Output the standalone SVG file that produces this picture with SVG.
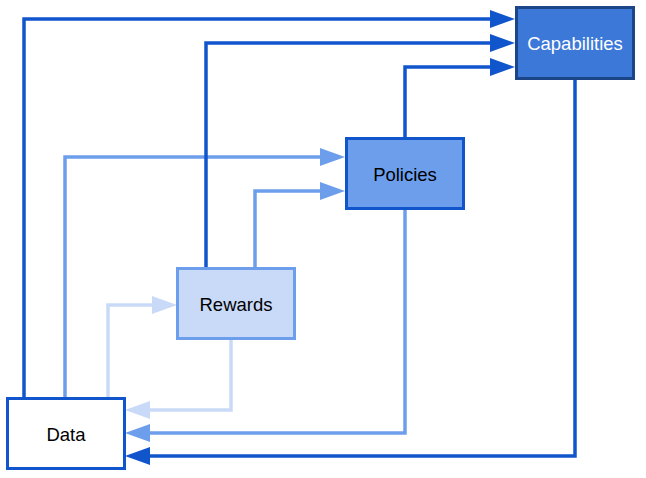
<svg xmlns="http://www.w3.org/2000/svg" width="646" height="478" viewBox="0 0 646 478">
<style>
.n text{font-family:"Liberation Sans",Arial,sans-serif;font-size:18.5px;text-anchor:middle;dominant-baseline:central}
.c path{fill:none;stroke-width:3.5;stroke-linejoin:miter}
.dk{stroke:#1155CC}
.md{stroke:#6D9EEB}
.lt{stroke:#C9DAF8}
</style>
<defs>
<marker id="ad" markerUnits="userSpaceOnUse" markerWidth="26" markerHeight="20" refX="12" refY="9" orient="auto"><path d="M0,0 L25,9 L0,18 z" fill="#1155CC"/></marker>
<marker id="am" markerUnits="userSpaceOnUse" markerWidth="26" markerHeight="20" refX="12" refY="9" orient="auto"><path d="M0,0 L25,9 L0,18 z" fill="#6D9EEB"/></marker>
<marker id="al" markerUnits="userSpaceOnUse" markerWidth="26" markerHeight="20" refX="12" refY="9" orient="auto"><path d="M0,0 L25,9 L0,18 z" fill="#C9DAF8"/></marker>
</defs>
<g id="connectors" class="c">
<path class="lt" d="M108,398 V305 H164" marker-end="url(#al)"/>
<path class="lt" d="M231,339 V410 H138" marker-end="url(#al)"/>
<path class="md" d="M65,398 V157 H332" marker-end="url(#am)"/>
<path class="md" d="M255,268 V191 H332" marker-end="url(#am)"/>
<path class="md" d="M405,209 V433 H138" marker-end="url(#am)"/>
<path class="dk" d="M24,398 V19 H502" marker-end="url(#ad)"/>
<path class="dk" d="M206,268 V43 H502" marker-end="url(#ad)"/>
<path class="dk" d="M405,138 V67 H502" marker-end="url(#ad)"/>
<path class="dk" d="M575,79 V456 H138" marker-end="url(#ad)"/>
</g>
<g id="capabilities" class="n">
<rect x="516.5" y="7.5" width="117" height="71" fill="#3C78D8" stroke="#1C4587" stroke-width="3"/>
<text x="575" y="43" fill="#FFFFFF">Capabilities</text>
</g>
<g id="policies" class="n">
<rect x="346.5" y="138.5" width="117" height="70" fill="#6D9EEB" stroke="#1155CC" stroke-width="3"/>
<text x="405" y="174" fill="#000000">Policies</text>
</g>
<g id="rewards" class="n">
<rect x="177.5" y="268.5" width="117" height="70" fill="#C9DAF8" stroke="#6D9EEB" stroke-width="3"/>
<text x="236" y="304" fill="#000000">Rewards</text>
</g>
<g id="data" class="n">
<rect x="7.5" y="398.5" width="117" height="70" fill="#FFFFFF" stroke="#1155CC" stroke-width="3"/>
<text x="66" y="434" fill="#000000">Data</text>
</g>
</svg>
